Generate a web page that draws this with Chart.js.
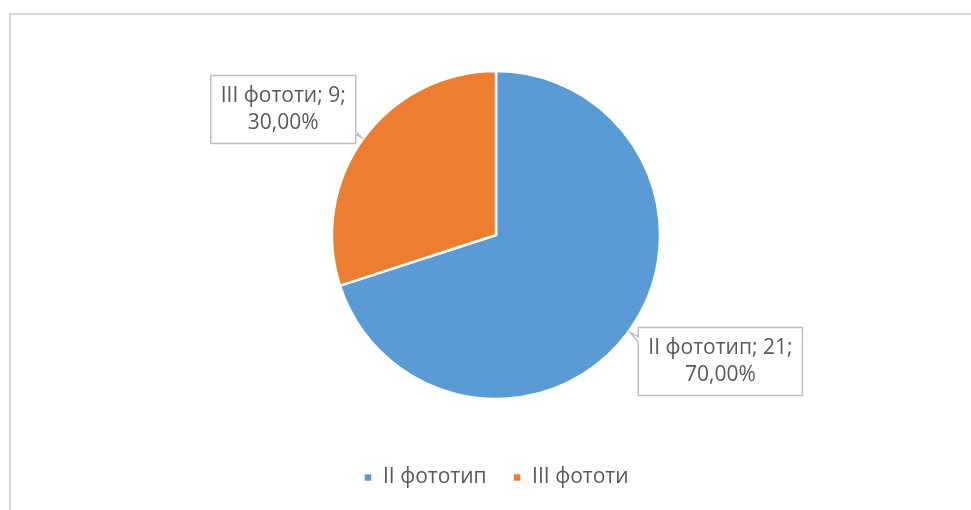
<!DOCTYPE html>
<html>
<head>
<meta charset="utf-8">
<script src="https://cdn.jsdelivr.net/npm/chart.js@4/dist/chart.umd.min.js"></script>
<style>
    html, body { margin: 0; padding: 0; background: #fff; overflow: hidden; }
    #wrap { position: relative; width: 971px; height: 510px; }
    #frame {
        position: absolute; left: 9px; top: 13px; width: 1000px; height: 600px;
        border-top: 2px solid #d9d9d9; border-left: 2px solid #d9d9d9;
        box-sizing: border-box;
    }
    #phototypes { position: absolute; left: 0; top: 0; }
</style>
</head>
<body>
<div id="wrap">
    <div id="frame"></div>
    <canvas id="phototypes" width="971" height="510"></canvas>
</div>
<script>
var phototypeLabels = ['II фототип', 'III фототи'];
var phototypeCounts = [21, 9];
var sliceColors = ['#5b9bd5', '#ed7d31'];

var textColor = '#595959';
var fontFamily = '"Open Sans", "Noto Sans", sans-serif';

// callout boxes: "name; count; percent" next to each slice
var callouts = {
    id: 'callouts',
    afterDatasetsDraw: function(chart) {
        var ctx = chart.ctx;
        var meta = chart.getDatasetMeta(0);
        var total = phototypeCounts.reduce(function(a, b) { return a + b; }, 0);
        ctx.save();
        ctx.font = '21px ' + fontFamily;
        meta.data.forEach(function(arc, i) {
            var p = arc.getProps(['x', 'y', 'startAngle', 'endAngle', 'outerRadius'], true);
            var mid = (p.startAngle + p.endAngle) / 2;
            var tipX = p.x + Math.cos(mid) * (p.outerRadius + 2);
            var tipY = p.y + Math.sin(mid) * (p.outerRadius + 2);
            var pct = (phototypeCounts[i] / total * 100).toFixed(2).replace('.', ',') + '%';
            var lines = [phototypeLabels[i] + '; ' + phototypeCounts[i] + ';', pct];
            var w = Math.max(ctx.measureText(lines[0]).width, ctx.measureText(lines[1]).width) + 20;
            var h = 68;
            var left, top;
            ctx.beginPath();
            if (Math.cos(mid) < 0) {
                left = tipX - 6 - w;
                top = tipY + 6 - h;
                var r = left + w, b = top + h;
                ctx.moveTo(left, top);
                ctx.lineTo(r, top);
                ctx.lineTo(r, b - 12);
                ctx.lineTo(tipX, tipY);
                ctx.lineTo(r, b - 9);
                ctx.lineTo(r, b);
                ctx.lineTo(left, b);
            } else {
                left = tipX + 8;
                top = tipY - 5;
                ctx.moveTo(left, top);
                ctx.lineTo(left + w, top);
                ctx.lineTo(left + w, top + h);
                ctx.lineTo(left, top + h);
                ctx.lineTo(left, top + 15);
                ctx.lineTo(tipX, tipY);
                ctx.lineTo(left, top + 9);
            }
            ctx.closePath();
            ctx.fillStyle = '#ffffff';
            ctx.fill();
            ctx.strokeStyle = '#bfbfbf';
            ctx.lineWidth = 1.5;
            ctx.stroke();
            ctx.fillStyle = textColor;
            ctx.textAlign = 'center';
            ctx.textBaseline = 'middle';
            ctx.fillText(lines[0], left + w / 2, top + h / 2 - 13.5);
            ctx.fillText(lines[1], left + w / 2, top + h / 2 + 13.5);
        });
        ctx.restore();
    }
};

var ctx = document.getElementById('phototypes').getContext('2d');
var phototypeChart = new Chart(ctx, {
    type: 'pie',
    data: {
        labels: phototypeLabels,
        datasets: [{
            data: phototypeCounts,
            backgroundColor: sliceColors,
            borderColor: '#ffffff',
            borderWidth: 2.5,
            radius: 164
        }]
    },
    options: {
        responsive: false,
        animation: false,
        layout: {
            padding: { left: 21, right: 0, top: 29, bottom: 12 }
        },
        plugins: {
            tooltip: { enabled: false },
            legend: {
                position: 'bottom',
                labels: {
                    boxWidth: 9,
                    boxHeight: 9,
                    padding: 26,
                    color: textColor,
                    font: { family: fontFamily, size: 21 }
                }
            }
        }
    },
    plugins: [callouts]
});
</script>
</body>
</html>
